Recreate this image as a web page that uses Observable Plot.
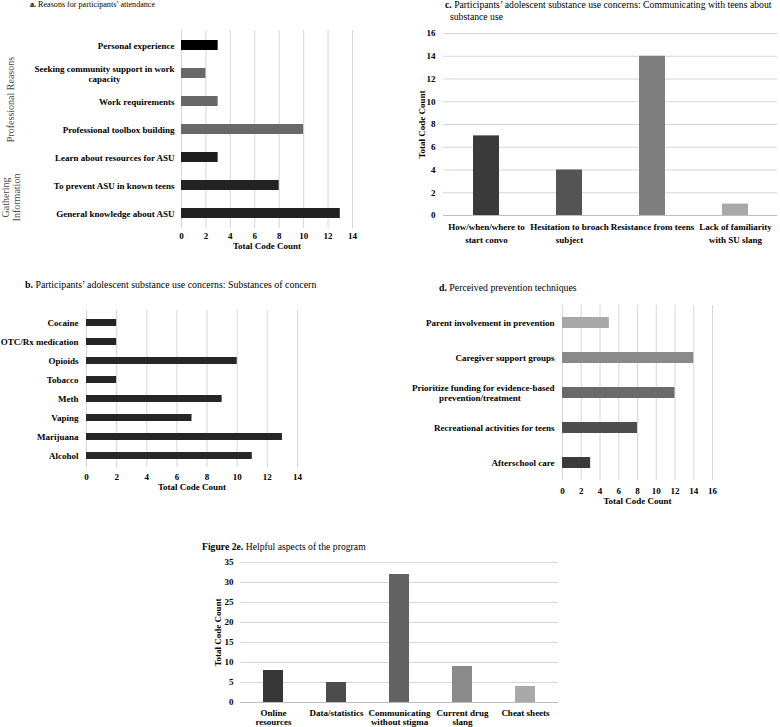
<!DOCTYPE html>
<html><head><meta charset="utf-8">
<script src="https://cdn.jsdelivr.net/npm/d3@7"></script>
<script src="https://cdn.jsdelivr.net/npm/@observablehq/plot@0.6"></script>
<style>
body{margin:0;background:#fff;}
#root{position:relative;width:780px;height:727px;overflow:hidden;font-family:"Liberation Serif",serif;color:#000;background:#fff;}
.panel{position:absolute;}
.title{position:absolute;line-height:12px;white-space:nowrap;}
</style></head><body><div id="root"></div>
<script>
// ---- Data ----
const catsA = ["Personal experience","Seeking community support in work capacity","Work requirements","Professional toolbox building","Learn about resources for ASU","To prevent ASU in known teens","General knowledge about ASU"];
const valsA = [3,2,3,10,3,8,13];
const groupsA = ["Professional Reasons","Gathering\nInformation"];
const ticksA = [0,2,4,6,8,10,12,14];

const catsB = ["Cocaine","OTC/Rx medication","Opioids","Tobacco","Meth","Vaping","Marijuana","Alcohol"];
const valsB = [2,2,10,2,9,7,13,11];
const ticksB = [0,2,4,6,8,10,12,14];

const catsC = ["How/when/where to start convo","Hesitation to broach subject","Resistance from teens","Lack of familiarity with SU slang"];
const valsC = [7,4,14,1];
const ticksC = [0,2,4,6,8,10,12,14,16];

const catsD = ["Parent involvement in prevention","Caregiver support groups","Prioritize funding for evidence-based prevention/treatment","Recreational activities for teens","Afterschool care"];
const valsD = [5,14,12,8,3];
const ticksD = [0,2,4,6,8,10,12,14,16];

const catsE = ["Online resources","Data/statistics","Communicating without stigma","Current drug slang","Cheat sheets"];
const valsE = [8,5,32,9,4];
const ticksE = [0,5,10,15,20,25,30,35];

const axisTitle = "Total Code Count";

// ---- Styles ----
const colorsA = ["#000000","#686868","#686868","#686868","#1e1e1e","#222222","#222222"];
const colorsB = catsB.map(() => "#262626");
const colorsC = ["#3a3a3a","#545454","#7f7f7f","#a8a8a8"];
const colorsD = ["#a8a8a8","#8a8a8a","#6a6a6a","#4e4e4e","#3a3a3a"];
const colorsE = ["#363636","#4c4c4c","#626262","#8a8a8a","#a9a9a9"];

const nb = n => "\u00a0".repeat(n);
const wrapA = {"Seeking community support in work capacity": "Seeking community support in work\ncapacity" + nb(24)};
const wrapC = {"How/when/where to start convo":"How/when/where to\nstart convo","Hesitation to broach subject":"Hesitation to broach\nsubject","Lack of familiarity with SU slang":"Lack of familiarity\nwith SU slang"};
const wrapD = {"Prioritize funding for evidence-based prevention/treatment":"Prioritize funding for evidence-based\nprevention/treatment" + nb(15)};
const wrapE = {"Online resources":"Online\nresources","Communicating without stigma":"Communicating\nwithout stigma","Current drug slang":"Current drug\nslang"};

const baseStyle = {fontFamily:"Liberation Serif", fontSize:"9px", fontWeight:"bold", background:"transparent", color:"#000"};

function hbar(o) {
  const data = o.cats.map((c,i)=>({cat:c, value:o.vals[i], color:o.colors[i]}));
  return Plot.plot({
    width:o.width, height:o.height,
    marginTop:o.mt, marginRight:o.mr, marginBottom:o.mb, marginLeft:o.ml,
    style: baseStyle,
    color: {type:"identity"},
    x: {domain:[0,o.max]},
    y: {domain:o.cats, paddingInner:o.pad, paddingOuter:o.pad/2},
    marks: [
      Plot.gridX(o.ticks, {stroke:"#d6d6d6", strokeOpacity:1}),
      Plot.barX(data, {x:"value", y:"cat", fill:"color"}),
      Plot.axisX({ticks:o.ticks, tickSize:0, tickPadding:o.tpx, label:null}),
      Plot.axisY({tickSize:0, tickPadding:o.tpy, label:null, lineHeight:o.lh || 1.15, tickFormat: d => (o.wrap && o.wrap[d]) || d}),
      Plot.text([axisTitle], {text:d=>d, frameAnchor:"bottom", textAnchor:"middle", dy:o.titleDy, fontSize:9}),
      ...(o.extra || [])
    ]
  });
}

function vbar(o) {
  const data = o.cats.map((c,i)=>({cat:c, value:o.vals[i], color:o.colors[i]}));
  return Plot.plot({
    width:o.width, height:o.height,
    marginTop:o.mt, marginRight:o.mr, marginBottom:o.mb, marginLeft:o.ml,
    style: baseStyle,
    color: {type:"identity"},
    x: {domain:o.cats, paddingInner:o.pad, paddingOuter:o.pad/2},
    y: {domain:[0,o.max]},
    marks: [
      Plot.gridY(o.ticks, {stroke:"#d6d6d6", strokeOpacity:1}),
      Plot.ruleY([0], {stroke:"#bdbdbd"}),
      Plot.barY(data, {x:"cat", y:"value", fill:"color"}),
      Plot.axisY({ticks:o.ticks, tickSize:0, tickPadding:o.tpy, label:null}),
      Plot.axisX({tickSize:0, tickPadding:o.tpx, label:null, lineHeight:o.lh || 1.15, tickFormat: d => (o.wrap && o.wrap[d]) || d}),
      Plot.text([axisTitle], {text:d=>d, frameAnchor:"left", textAnchor:"middle", rotate:-90, dx:o.labelDx, fontSize:9})
    ]
  });
}

const root = document.getElementById("root");
function place(node, left, top) {
  const div = document.createElement("div");
  div.className = "panel";
  div.style.left = left + "px";
  div.style.top = top + "px";
  div.appendChild(node);
  root.appendChild(div);
}
function title(html, left, top, size) {
  const div = document.createElement("div");
  div.className = "title";
  div.style.left = left + "px";
  div.style.top = top + "px";
  div.style.fontSize = size + "px";
  div.innerHTML = html;
  root.appendChild(div);
}

// Panel a
const groupStyle = {fontWeight:"normal", fontSize:10, fill:"#4a4a4a", rotate:-90, frameAnchor:"left", textAnchor:"middle", lineHeight:1.1};
place(hbar({
  cats:catsA, vals:valsA, colors:colorsA, ticks:ticksA, max:14,
  width:390, height:235, mt:8, mr:38, mb:29, ml:181, pad:0.65,
  tpx:4, tpy:7, titleDy:20, wrap:wrapA,
  extra:[
    Plot.text([{g:groupsA[0], at:catsA[2]}], {y:"at", text:"g", dx:-171, dy:-2, ...groupStyle}),
    Plot.text([{g:groupsA[1], at:catsA[5]}], {y:"at", text:"g", dx:-171, dy:12, ...groupStyle})
  ]
}), 0, 22);
title("<b>a.</b> Reasons for participants’ attendance", 30, -1, 8.1);

// Panel b
place(hbar({
  cats:catsB, vals:valsB, colors:colorsB, ticks:ticksB, max:14,
  width:390, height:200, mt:15, mr:93, mb:28, ml:86, pad:0.64,
  tpx:6, tpy:8, titleDy:22
}), 0, 295);
title("<b>b.</b> Participants’ adolescent substance use concerns: Substances of concern", 25, 279, 9.9);

// Panel c
place(vbar({
  cats:catsC, vals:valsC, colors:colorsC, ticks:ticksC, max:16,
  width:390, height:225, mt:8, mr:3, mb:35, ml:53, pad:0.69,
  tpx:6, tpy:8, lh:1.4, labelDx:-21, wrap:wrapC
}), 390, 25);
title("<b>c.</b> Participants’ adolescent substance use concerns: Communicating with teens about<br><span style='padding-left:5px'>substance use</span>", 445, -1, 9.7);

// Panel d
place(hbar({
  cats:catsD, vals:valsD, colors:colorsD, ticks:ticksD, max:16,
  width:390, height:220, mt:10, mr:68, mb:35, ml:172, pad:0.69,
  tpx:7, tpy:8, titleDy:23, wrap:wrapD
}), 390, 295);
title("<b>d.</b> Perceived prevention techniques", 439, 282, 9.8);

// Panel e
place(vbar({
  cats:catsE, vals:valsE, colors:colorsE, ticks:ticksE, max:35,
  width:420, height:172, mt:7, mr:42, mb:25, ml:60, pad:0.69,
  tpx:6, tpy:7, lh:1.1, labelDx:-22, wrap:wrapE
}), 180, 555);
title("<b>Figure 2e.</b> Helpful aspects of the program", 202, 541, 9.7);
</script>
</body></html>
